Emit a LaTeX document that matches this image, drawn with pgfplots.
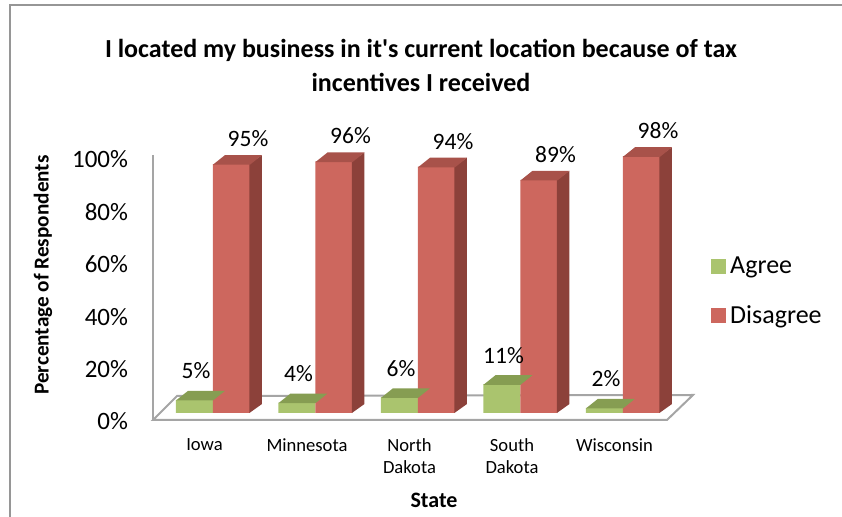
\documentclass[border=0pt]{standalone}
\usepackage{pgfplots}
\pgfplotsset{compat=1.18}
\usepackage{pgfplotstable}
\usepackage{fontspec}
\setmainfont{Carlito}

\definecolor{gfront}{RGB}{170,196,110}
\definecolor{gtop}{RGB}{134,157,82}
\definecolor{rfront}{RGB}{205,103,94}
\definecolor{rtop}{RGB}{168,82,74}
\definecolor{rside}{RGB}{140,65,58}
\definecolor{wallc}{RGB}{165,165,165}

\pgfdeclareplotmark{topR}{%
  \pgfpathmoveto{\pgfqpoint{0pt}{-0.3pt}}%
  \pgfpathlineto{\pgfqpoint{18.5pt}{-0.3pt}}%
  \pgfpathlineto{\pgfqpoint{24.5pt}{4.5pt}}%
  \pgfpathlineto{\pgfqpoint{6pt}{4.5pt}}%
  \pgfpathclose\pgfusepathqfill}
\pgfdeclareplotmark{topL}{%
  \pgfpathmoveto{\pgfqpoint{-18.5pt}{-0.3pt}}%
  \pgfpathlineto{\pgfqpoint{0pt}{-0.3pt}}%
  \pgfpathlineto{\pgfqpoint{6pt}{4.5pt}}%
  \pgfpathlineto{\pgfqpoint{-12.5pt}{4.5pt}}%
  \pgfpathclose\pgfusepathqfill}
\pgfdeclareplotmark{sideR}{%
  \pgfmathsetlengthmacro{\hh}{1.31pt*\val}%
  \pgfpathmoveto{\pgfqpoint{18.2pt}{0pt}}%
  \pgfpathlineto{\pgfqpoint{24.5pt}{4.5pt}}%
  \pgfpathlineto{\pgfpoint{24.5pt}{4.5pt-\hh}}%
  \pgfpathlineto{\pgfpoint{18.2pt}{-\hh}}%
  \pgfpathclose\pgfusepathqfill}

\pgfplotstableread{
x agree disagree
0 5 95
1 4 96
2 6 94
3 11 89
4 2 98
}\datatable

\begin{document}
\begin{tikzpicture}
\useasboundingbox (0,0) rectangle (421pt,-258.5pt);
\draw[color={rgb,255:red,150;green,150;blue,150}, line width=0.8pt] (5pt,-258.5pt) -- (5pt,-2.5pt) -- (421pt,-2.5pt);
\begin{axis}[
  at={(106.5pt,-206.5pt)}, anchor=origin,
  x=51.25pt, y=1.31pt,
  xmin=-0.585, xmax=4.683, ymin=-3, ymax=100,
  clip=false,
  axis line style={draw=none},
  tick style={draw=none},
  major tick length=0pt,
  xtick={0,1,2,3,4},
  xticklabels={Iowa,Minnesota,North\\Dakota,South\\Dakota,Wisconsin},
  xticklabel style={align=center, font=\fontsize{9.3}{10.75}\selectfont, xshift=-4.25pt, anchor=north, yshift=-5.5pt},
  ytick={0,20,40,60,80,100},
  yticklabels={0\%,20\%,40\%,60\%,80\%,100\%},
  yticklabel style={font=\fontsize{12.5}{14}\selectfont, anchor=east, yshift=-4.25pt, xshift=-9pt},
  legend style={at={(axis description cs:1.033,0.625)}, anchor=north west, draw=none, fill=none,
     font=\fontsize{13}{15}\selectfont, row sep=10.5pt, inner sep=0pt, legend cell align=left},
  legend image code/.code={\fill[#1] (0pt,-3.75pt) rectangle (7.5pt,3.75pt);},
  nodes near coords={\pgfmathprintnumber[assume math mode=true]{\pgfplotspointmeta}\%},
  every node near coord/.append style={font=\fontsize{11.75}{13}\selectfont, anchor=center, text=black},
]
% floor and wall
\draw[wallc, line width=1pt] (axis cs:-0.585,98.5) -- (axis cs:-0.585,-2.67);
\draw[wallc, line width=1pt] (axis cs:-0.585,-2.67) -- (axis cs:4.429,-2.67) -- (axis cs:4.683,6.87) -- (axis cs:-0.351,6.49) -- cycle;
% Agree
\addplot[only marks, mark=topL, color=gtop, forget plot, nodes near coords={}] table[x=x,y=agree]{\datatable};
\addplot[ybar, bar width=18.5pt, bar shift=-9.25pt, fill=gfront, draw=none,
  every node near coord/.append style={xshift=-8.5pt, yshift=14.5pt}] table[x=x,y=agree]{\datatable};
\addlegendentry{Agree}
% Disagree
\addplot[only marks, mark=sideR, color=rside, forget plot, nodes near coords={},
  visualization depends on={\thisrow{disagree} \as \val}] table[x=x,y=disagree]{\datatable};
\addplot[only marks, mark=topR, color=rtop, forget plot, nodes near coords={}] table[x=x,y=disagree]{\datatable};
\addplot[ybar, bar width=18.5pt, bar shift=9.25pt, fill=rfront, draw=none,
  every node near coord/.append style={xshift=17.5pt, yshift=12.75pt}] table[x=x,y=disagree]{\datatable};
\addlegendentry{Disagree}
\end{axis}
\node[font=\bfseries\fontsize{13}{15}\selectfont] at (210.5pt,-25pt) {I located my business in it\textquotesingle s current location because of tax};
\node[font=\bfseries\fontsize{13}{15}\selectfont] at (210.5pt,-41pt) {incentives I received};
\node[font=\bfseries\fontsize{10.6}{12}\selectfont, rotate=90] at (21.5pt,-137.5pt) {Percentage of Respondents};
\node[font=\bfseries\fontsize{11}{13}\selectfont] at (217pt,-250pt) {State};
\end{tikzpicture}
\end{document}
